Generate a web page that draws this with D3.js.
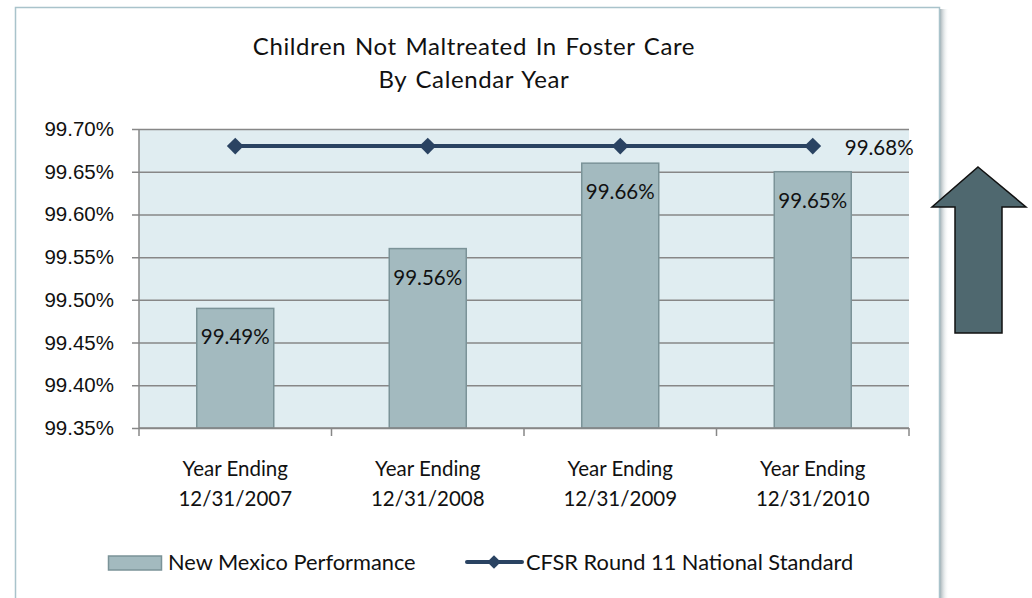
<!DOCTYPE html>
<html>
<head>
<meta charset="utf-8">
<script src="https://cdn.jsdelivr.net/npm/d3@7"></script>
<style>
  body { margin: 0; background: #fff; }
  svg { display: block; font-family: Lato, "Open Sans", sans-serif; }
</style>
</head>
<body>
<div class="svg_container"></div>
<script>
// Chart data
var categories = ["Year Ending|12/31/2007", "Year Ending|12/31/2008", "Year Ending|12/31/2009", "Year Ending|12/31/2010"];
var performance = [99.49, 99.56, 99.66, 99.65];
var standard = [99.68, 99.68, 99.68, 99.68];
var yTicks = [99.35, 99.40, 99.45, 99.50, 99.55, 99.60, 99.65, 99.70];
var titleLines = ["Children Not Maltreated In Foster Care", "By Calendar Year"];
var seriesNames = ["New Mexico Performance", "CFSR Round 11 National Standard"];

var W = 1032, H = 598;
var plot = { left: 139, top: 129, right: 909, bottom: 428 };
var FS = "20.5px";

var svg = d3.select("div.svg_container")
    .append("svg")
        .attr("width", W)
        .attr("height", H);

// drop shadow for the chart frame
var defs = svg.append("defs");
var grad = defs.append("linearGradient").attr("id", "shadow").attr("x1", 0).attr("x2", 1);
grad.append("stop").attr("offset", 0).attr("stop-color", "#9aa8ad").attr("stop-opacity", 0.9);
grad.append("stop").attr("offset", 1).attr("stop-color", "#ffffff").attr("stop-opacity", 0);

svg.append("rect")
    .attr("x", 940).attr("y", 9).attr("width", 9).attr("height", H)
    .attr("fill", "url(#shadow)");

// Chart frame
svg.append("rect")
    .attr("x", 15.5).attr("y", 7.5)
    .attr("width", 924).attr("height", H + 10)
    .attr("fill", "#fff")
    .attr("stroke", "#a9c3cb")
    .attr("stroke-width", 1.5);

var x = d3.scaleBand()
    .domain(categories)
    .range([plot.left, plot.right])
    .paddingInner(0.6)
    .paddingOuter(0.3);

var xBand = d3.scaleBand()
    .domain(categories)
    .range([plot.left, plot.right]);

var y = d3.scaleLinear()
    .domain([99.35, 99.70])
    .range([plot.bottom, plot.top]);

// plot background
svg.append("rect")
    .attr("x", plot.left).attr("y", plot.top)
    .attr("width", plot.right - plot.left)
    .attr("height", plot.bottom - plot.top)
    .attr("fill", "#e0edf1");

// gridlines + y axis
var yAxis = svg.append("g")
    .attr("transform", "translate(" + plot.left + ",0)")
    .call(d3.axisLeft(y)
        .tickValues(yTicks)
        .tickSize(-(plot.right - plot.left))
        .tickPadding(25)
        .tickFormat(function(d) { return d.toFixed(2) + "%"; }));
yAxis.select(".domain").remove();
yAxis.selectAll(".tick line")
    .attr("x1", -7)
    .attr("stroke", "#878787")
    .attr("stroke-width", 1.5);
yAxis.selectAll(".tick text")
    .attr("fill", "#111")
    .style("font-size", FS);

svg.append("line")
    .attr("x1", plot.left).attr("x2", plot.left)
    .attr("y1", plot.top).attr("y2", plot.bottom)
    .attr("stroke", "#878787").attr("stroke-width", 1.5);

// bars
svg.selectAll("rect.bar")
    .data(performance)
    .enter()
    .append("rect")
        .attr("class", "bar")
        .attr("x", function(d, i) { return x(categories[i]); })
        .attr("y", function(d) { return y(d); })
        .attr("width", x.bandwidth())
        .attr("height", function(d) { return plot.bottom - y(d); })
        .attr("fill", "#a3babf")
        .attr("stroke", "#7b9398")
        .attr("stroke-width", 1.5);

svg.selectAll("text.barlabel")
    .data(performance)
    .enter()
    .append("text")
        .attr("class", "barlabel")
        .attr("x", function(d, i) { return x(categories[i]) + x.bandwidth() / 2; })
        .attr("y", function(d) { return y(d) + 36; })
        .attr("text-anchor", "middle")
        .attr("fill", "#111")
        .style("font-size", FS)
        .text(function(d) { return d.toFixed(2) + "%"; });

// x axis
var xAxis = svg.append("g")
    .attr("transform", "translate(0," + plot.bottom + ")");
xAxis.append("line")
    .attr("x1", plot.left).attr("x2", plot.right)
    .attr("stroke", "#878787").attr("stroke-width", 1.5);
xAxis.selectAll("line.xtick")
    .data(categories.concat(["end"]))
    .enter()
    .append("line")
        .attr("class", "xtick")
        .attr("x1", function(d, i) { return i < categories.length ? xBand(d) : plot.right; })
        .attr("x2", function(d, i) { return i < categories.length ? xBand(d) : plot.right; })
        .attr("y1", 0).attr("y2", 8)
        .attr("stroke", "#878787").attr("stroke-width", 1.5);
var xLabels = xAxis.selectAll("text.xlabel")
    .data(categories)
    .enter()
    .append("text")
        .attr("class", "xlabel")
        .attr("text-anchor", "middle")
        .attr("fill", "#111")
        .style("font-size", FS);
xLabels.each(function(d) {
    var parts = d.split("|");
    var t = d3.select(this);
    var cx = xBand(d) + xBand.bandwidth() / 2;
    parts.forEach(function(p, k) {
        t.append("tspan").attr("x", cx).attr("y", 48 + k * 30).text(p);
    });
});

// national standard line
var line = d3.line()
    .x(function(d, i) { return x(categories[i]) + x.bandwidth() / 2; })
    .y(function(d) { return y(d); });

svg.append("path")
    .datum(standard)
    .attr("d", line)
    .attr("fill", "none")
    .attr("stroke", "#2a4362")
    .attr("stroke-width", 4);

var diamond = d3.symbol().type(d3.symbolDiamond2).size(180);
svg.selectAll("path.marker")
    .data(standard)
    .enter()
    .append("path")
        .attr("class", "marker")
        .attr("d", diamond)
        .attr("transform", function(d, i) {
            return "translate(" + (x(categories[i]) + x.bandwidth() / 2) + "," + y(d) + ")";
        })
        .attr("fill", "#2a4362");

svg.append("text")
    .attr("x", x(categories[3]) + x.bandwidth() / 2 + 32)
    .attr("y", y(standard[3]) + 9)
    .attr("fill", "#111")
    .style("font-size", FS)
    .text(standard[3].toFixed(2) + "%");

// title
svg.append("g").selectAll("text")
    .data(titleLines)
    .enter()
    .append("text")
        .attr("x", 474)
        .attr("y", function(d, i) { return 55 + i * 33; })
        .attr("text-anchor", "middle")
        .attr("fill", "#111")
        .style("font-size", "24px")
        .style("letter-spacing", "0.6px")
        .style("word-spacing", "2px")
        .text(function(d) { return d; });

// legend
var legend = svg.append("g").attr("class", "legend");
legend.append("rect")
    .attr("x", 108.5).attr("y", 556)
    .attr("width", 53).attr("height", 14)
    .attr("fill", "#a3babf")
    .attr("stroke", "#7b9398")
    .attr("stroke-width", 1.5);
legend.append("text")
    .attr("x", 168).attr("y", 570)
    .attr("fill", "#111")
    .style("font-size", "21.8px")
    .text(seriesNames[0]);
legend.append("line")
    .attr("x1", 467).attr("x2", 522)
    .attr("y1", 562).attr("y2", 562)
    .attr("stroke", "#2a4362").attr("stroke-width", 4)
    .attr("stroke-linecap", "round");
legend.append("path")
    .attr("d", d3.symbol().type(d3.symbolDiamond2).size(120))
    .attr("transform", "translate(494,562)")
    .attr("fill", "#2a4362");
legend.append("text")
    .attr("x", 526).attr("y", 570)
    .attr("fill", "#111")
    .style("font-size", "21.8px")
    .text(seriesNames[1]);

// up arrow beside the chart
var arrowPts = [[978, 167], [1026, 207], [1002, 207], [1002, 333], [955, 333], [955, 207], [932, 207]];
svg.append("path")
    .attr("d", d3.line()(arrowPts) + "Z")
    .attr("fill", "#4f686f")
    .attr("stroke", "#111")
    .attr("stroke-width", 1.5)
    .attr("stroke-linejoin", "miter");
</script>
</body>
</html>
